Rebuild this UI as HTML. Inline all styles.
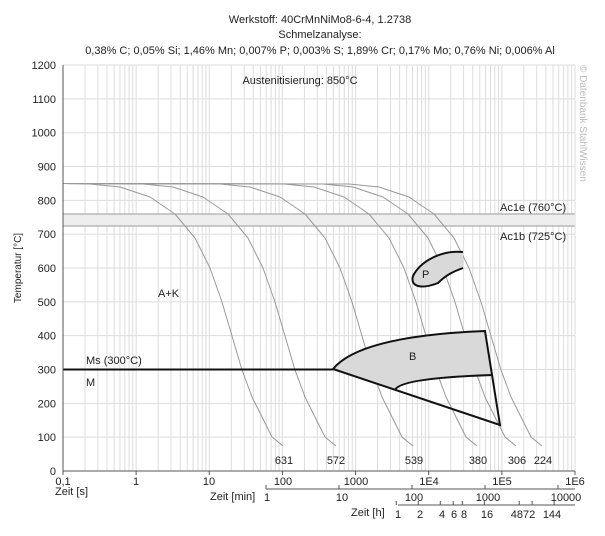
<!DOCTYPE html>
<html><head><meta charset="utf-8"><style>
body{margin:0;background:#fff}
svg{display:block;font-family:"Liberation Sans",sans-serif}
</style></head><body>
<svg width="605" height="536" viewBox="0 0 605 536">
<g font-size="11" fill="#222" text-anchor="middle">
<text x="320" y="23">Werkstoff: 40CrMnNiMo8-6-4, 1.2738</text>
<text x="320" y="38">Schmelzanalyse:</text>
<text x="320" y="54">0,38% C; 0,05% Si; 1,46% Mn; 0,007% P; 0,003% S; 1,89% Cr; 0,17% Mo; 0,76% Ni; 0,006% Al</text>
</g>
<g id="grid" stroke="#ddd" stroke-width="1"></g>
<rect x="63" y="214" width="512" height="12" fill="#eee"/>
<line x1="63" y1="214" x2="575" y2="214" stroke="#999"/>
<line x1="63" y1="226" x2="575" y2="226" stroke="#999"/>
<g id="curves" fill="none" stroke="#999" stroke-width="1"></g>
<path d="M333,369 Q360,336 485,331 L493,375 Q410,376 395,390 Z" fill="#d9d9d9"/>
<path d="M333,369 Q360,336 485,331 L500,425 Z" fill="none" stroke="#111" stroke-width="2"/>
<path d="M395,390 Q400,378 493,375" fill="none" stroke="#111" stroke-width="2"/>
<path d="M463,252 C440,250 420,262 413,276 C410,286 420,290 438,283 C447,274 455,271 463,268 Z" fill="#d9d9d9"/>
<path d="M463,252 C440,250 420,262 413,276 C410,286 420,290 438,283 C447,274 455,271 463,268" fill="none" stroke="#111" stroke-width="2"/>
<line x1="63" y1="369.5" x2="333" y2="369.5" stroke="#111" stroke-width="2"/>
<line x1="63" y1="65" x2="63" y2="471" stroke="#555"/>
<line x1="63" y1="471" x2="575" y2="471" stroke="#555"/>
<line x1="266" y1="489" x2="575" y2="489" stroke="#555"/>
<line x1="398" y1="505" x2="575" y2="505" stroke="#555"/>
<g id="ticks" stroke="#555"></g>
<g font-size="11" fill="#222">
<text x="300" y="84" text-anchor="middle">Austenitisierung: 850°C</text>
<text x="500" y="211">Ac1e (760°C)</text>
<text x="500" y="240">Ac1b (725°C)</text>
<text x="158" y="297">A+K</text>
<text x="86" y="364">Ms (300°C)</text>
<text x="86" y="386">M</text>
<text x="409" y="360">B</text>
<text x="422" y="278">P</text>
<g text-anchor="middle">
<text x="284" y="464">631</text><text x="336" y="464">572</text><text x="414" y="464">539</text>
<text x="478" y="464">380</text><text x="517" y="464">306</text><text x="543" y="464">224</text>
</g>
<text x="21" y="268" transform="rotate(-90 21 268)" text-anchor="middle" font-size="10">Temperatur [°C]</text>
<text x="580" y="65" transform="rotate(90 580 65)" fill="#bbb" font-size="10">© Datenbank StahlWissen</text>
<g text-anchor="end" id="ylab"></g>
<g text-anchor="middle">
<text x="63" y="485">0,1</text><text x="136" y="485">1</text><text x="209" y="485">10</text><text x="283" y="485">100</text>
<text x="356" y="485">1000</text><text x="429" y="485">1E4</text><text x="502" y="485">1E5</text><text x="575" y="485">1E6</text>
<text x="267" y="501">1</text><text x="342" y="501">10</text><text x="414" y="501">100</text><text x="488" y="501">1000</text><text x="566" y="501">10000</text>
<text x="398" y="518">1</text><text x="420" y="518">2</text><text x="442" y="518">4</text><text x="454" y="518">6</text><text x="464" y="518">8</text><text x="487" y="518">16</text><text x="523" y="518">4872</text><text x="552" y="518">144</text>
</g>
<text x="55" y="495">Zeit [s]</text>
<text x="210" y="500">Zeit [min]</text>
<text x="351" y="516">Zeit [h]</text>
</g>
<script>
var ns="http://www.w3.org/2000/svg",g=document.getElementById('grid'),yl=document.getElementById('ylab'),tk=document.getElementById('ticks');
function ln(p,x1,y1,x2,y2,c){var l=document.createElementNS(ns,'line');l.setAttribute('x1',x1);l.setAttribute('y1',y1);l.setAttribute('x2',x2);l.setAttribute('y2',y2);if(c)l.setAttribute('stroke',c);p.appendChild(l);}
for(var d=0;d<7;d++)for(var k=1;k<10;k++){var x=63+(d+Math.log10(k))*73.14;if(x>63)ln(g,x,65,x,471);}
ln(g,575,65,575,471);
for(var i=0;i<=7;i++){var x=63+i*73.14;ln(tk,x,471,x,475);}
[266,339,412,485,558].forEach(function(x){ln(tk,x,485,x,489);});
[1,2,4,6,8,16,48,72,144].forEach(function(h){var x=63+(Math.log10(h*3600)+1)*73.14;ln(tk,x,501,x,505);});
for(var t=0;t<=1200;t+=100){var y=471-t*0.3383;ln(g,63,y,575,y);var tx=document.createElementNS(ns,'text');tx.setAttribute('x',56);tx.setAttribute('y',y+4);tx.textContent=t;yl.appendChild(tx);}
var base=[[0,183.5],[27,184],[57,187],[87,197],[112,214],[132,238],[147,268],[159,302],[169,336],[179,370],[189,397],[199,417],[209,437],[220,446]];
var off=[0,53,130,194,233,259],cg=document.getElementById('curves');
off.forEach(function(o){var d='M63,183.5';base.forEach(function(p){if(p[0]>0)d+=' L'+(63+p[0]+o)+','+p[1];});var pa=document.createElementNS(ns,'path');pa.setAttribute('d',d);pa.setAttribute('stroke-linejoin','round');cg.appendChild(pa);});
</script>
</svg>
</body></html>
